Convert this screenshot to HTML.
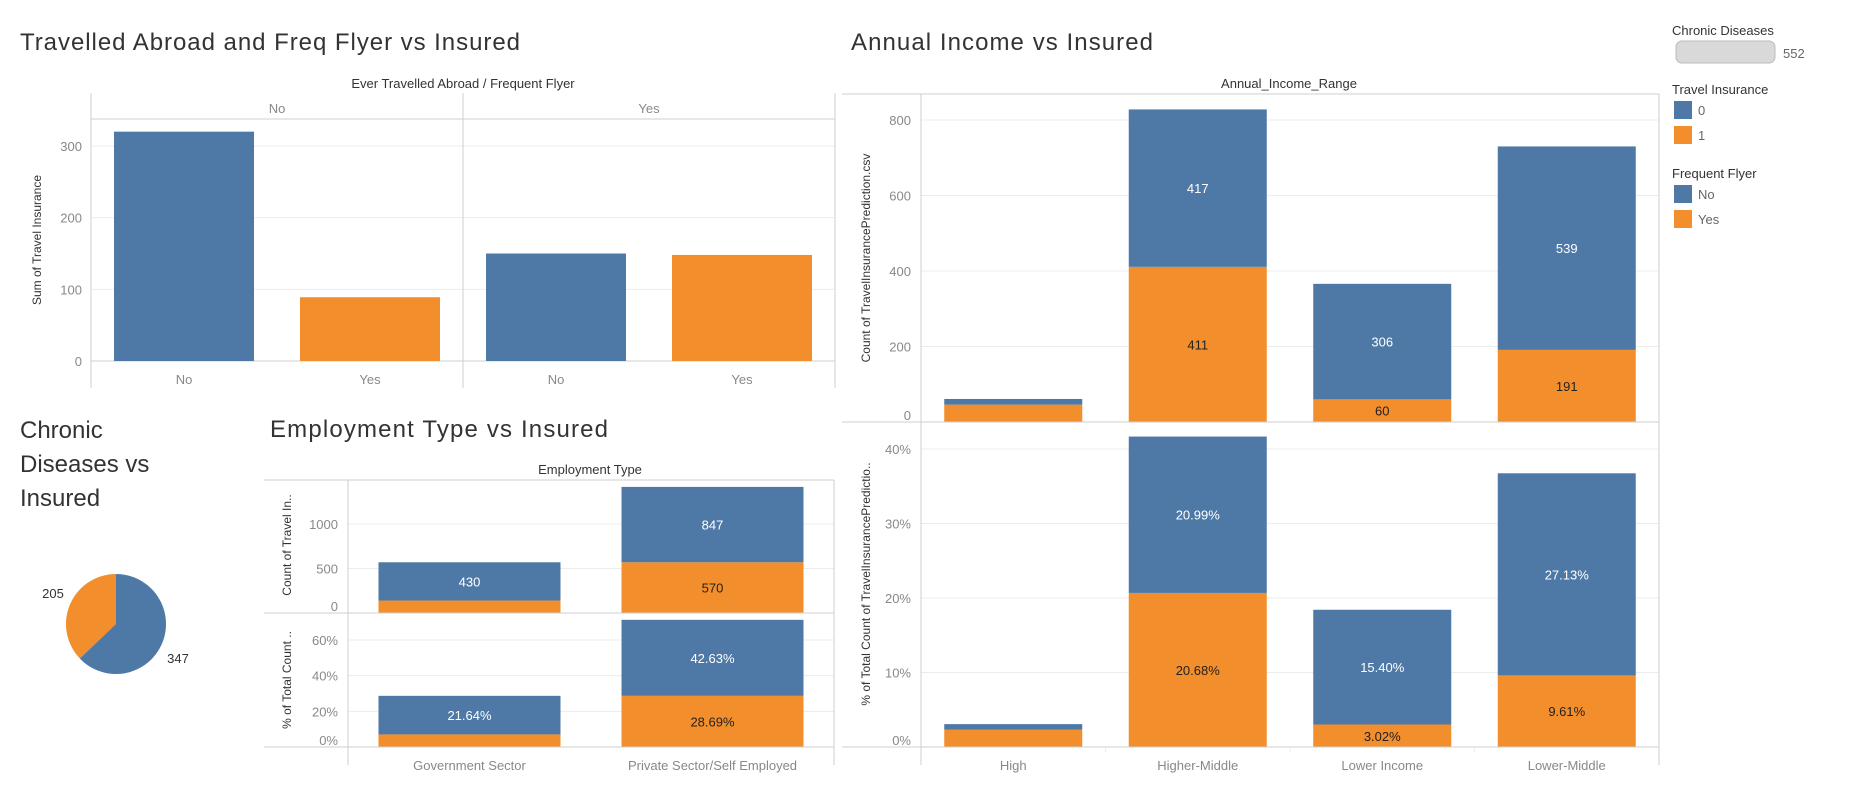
<!DOCTYPE html>
<html><head><meta charset="utf-8"><style>
body{margin:0;background:#fff;width:1870px;height:790px;overflow:hidden;font-family:"Liberation Sans",sans-serif}
svg text{font-family:"Liberation Sans",sans-serif}
</style></head><body>
<svg id="s" width="1870" height="790">
<g fill="#333" font-size="24">
<text x="20" y="50" textLength="500">Travelled Abroad and Freq Flyer vs Insured</text>
<text x="851" y="50" textLength="302">Annual Income vs Insured</text>
<text x="20" y="438">Chronic</text>
<text x="20" y="472">Diseases vs</text>
<text x="20" y="506">Insured</text>
<text x="270" y="437" textLength="338">Employment Type vs Insured</text>
</g>
<g font-size="13" fill="#333">
<text x="1672" y="35">Chronic Diseases</text>
<rect x="1676" y="41" width="99" height="22" rx="6" fill="#d9d9d9" stroke="#bbb"/>
<text x="1783" y="58" fill="#666">552</text>
<text x="1672" y="94">Travel Insurance</text>
<rect x="1674" y="101" width="18" height="18" fill="#4e79a7"/>
<text x="1698" y="115" fill="#666">0</text>
<rect x="1674" y="126" width="18" height="18" fill="#f28e2b"/>
<text x="1698" y="140" fill="#666">1</text>
<text x="1672" y="178">Frequent Flyer</text>
<rect x="1674" y="185" width="18" height="18" fill="#4e79a7"/>
<text x="1698" y="199" fill="#666">No</text>
<rect x="1674" y="210" width="18" height="18" fill="#f28e2b"/>
<text x="1698" y="224" fill="#666">Yes</text>
</g>
</svg>
<script>
// Chart 1: travelled abroad / frequent flyer
const travelGroups = ['No','Yes'];
const flyerCats = ['No','Yes'];
const travelValues = [[320, 89],[150, 148]];
const travelTicks = [0,100,200,300];
// Chart 2: income
const incomeCats = ['High','Higher-Middle','Lower Income','Lower-Middle'];
const incomeNo = [15, 417, 306, 539];
const incomeYes = [46, 411, 60, 191];
const incomePctNo = [0.75, 20.99, 15.40, 27.13];
const incomePctYes = [2.32, 20.68, 3.02, 9.61];
const incomeCountTicks = [0,200,400,600,800];
const incomePctTicks = [0,10,20,30,40];
// Chart 3: employment
const empCats = ['Government Sector','Private Sector/Self Employed'];
const empNo = [430, 847];
const empYes = [140, 570];
const empPctNo = [21.64, 42.63];
const empPctYes = [7.05, 28.69];
const empCountTicks = [0,500,1000];
const empPctTicks = [0,20,40,60];
// Chart 4: pie
const pieLabels = ['205','347'];
const pieValues = [205, 347];

const BLUE='#4e79a7', ORANGE='#f28e2b', GRID='#ececec', BORDER='#cfcfcf';
const svg=document.getElementById('s');
const NS='http://www.w3.org/2000/svg';
function mk(tag,attrs,parent){const e=document.createElementNS(NS,tag);for(const k in attrs)e.setAttribute(k,attrs[k]);(parent||svg).appendChild(e);return e;}
function txt(x,y,s,attrs,parent){const e=mk('text',Object.assign({x:x,y:y},attrs||{}),parent);e.textContent=s;return e;}
function line(x1,y1,x2,y2,c,parent){return mk('line',{x1,y1,x2,y2,stroke:c||BORDER,'stroke-width':1},parent);}

// ---------- Chart 1 ----------
{
const g=mk('g',{});


const L=91,R=835,T=93,H=119,B=361,mid=463;
const y=v=>B-v*(B-146)/300;
txt(463,88,'Ever Travelled Abroad  /  Frequent Flyer',{'text-anchor':'middle','font-size':13,fill:'#333'},g);
travelTicks.forEach(t=>{ if(t>0) line(L,y(t),R,y(t),GRID,g);
 const e=txt(82,y(t)+5,String(t),{'text-anchor':'end','font-size':13,fill:'#888'},g);
 
 });
line(L,T,L,388,BORDER,g);line(mid,T,mid,388,BORDER,g);line(R,T,R,388,BORDER,g);
line(L,H,R,H,BORDER,g);line(L,B,R,B,BORDER,g);
const t=txt(0,0,'Sum of Travel Insurance',{'font-size':12,fill:'#333','text-anchor':'middle',transform:'translate(41,240) rotate(-90)'},g);


const gw=(mid-L);
travelGroups.forEach((grp,gi)=>{
 const gx=L+gi*gw;
 const h=txt(gx+gw/2,113,grp,{'text-anchor':'middle','font-size':13,fill:'#888'},g);
 
 
 flyerCats.forEach((c,ci)=>{
  const cx=gx+gw*(ci+0.5)/2, w=140, v=travelValues[gi][ci];
  const r=mk('rect',{x:cx-w/2,y:y(v),width:w,height:B-y(v),fill:ci?ORANGE:BLUE},g);
  
  
  const l=txt(cx,384,c,{'text-anchor':'middle','font-size':13,fill:'#888'},g);
  
  
 });
});
}

// ---------- stacked helper ----------
function stacked(g,opt){
 const {L,R,top,bot,cats,no,yes,ticks,max,fmt,labelNo,labelYes,w,labelMin}=opt;
 const y=v=>bot-v*(bot-top)/max;
 ticks.forEach(t=>{ if(t>0) line(L,y(t),R,y(t),GRID,g);
  const e=txt(L-10,Math.min(y(t)+5,bot-2),fmt(t),{'text-anchor':'end','font-size':13,fill:'#888'},g);
  
  });
 const bw=(R-L)/cats.length;
 cats.forEach((c,i)=>{
  const cx=L+bw*(i+0.5);
  const ry=mk('rect',{x:cx-w/2,y:y(yes[i]),width:w,height:bot-y(yes[i]),fill:ORANGE},g);
  
  
  const rn=mk('rect',{x:cx-w/2,y:y(yes[i]+no[i]),width:w,height:y(yes[i])-y(yes[i]+no[i]),fill:BLUE},g);
  
  
  if(no[i]>=labelMin){const e=txt(cx,(y(yes[i])+y(yes[i]+no[i]))/2+5,labelNo[i],{'text-anchor':'middle','font-size':13,fill:'#fff'},g);
   
   }
  if(no[i]>=labelMin){const e=txt(cx,(bot+y(yes[i]))/2+5,labelYes[i],{'text-anchor':'middle','font-size':13,fill:'#222'},g);
   
   }
 });
}

// ---------- Chart 2 ----------
{
const g=mk('g',{});


const L=921,R=1659,T=94;
txt(1289,88,'Annual_Income_Range',{'text-anchor':'middle','font-size':13,fill:'#333'},g);
stacked(g,{L,R,top:120,bot:422,cats:incomeCats,no:incomeNo,yes:incomeYes,ticks:incomeCountTicks,max:800,fmt:t=>String(t),
 labelNo:incomeNo.map(String),labelYes:incomeYes.map(String),w:138,labelMin:100});
stacked(g,{L,R,top:449,bot:747,cats:incomeCats,no:incomePctNo,yes:incomePctYes,ticks:incomePctTicks,max:40,fmt:t=>t+'%',
 labelNo:incomePctNo.map(v=>v.toFixed(2)+'%'),labelYes:incomePctYes.map(v=>v.toFixed(2)+'%'),w:138,labelMin:5});
line(842,T,R,T,BORDER,g);line(L,T,L,765,BORDER,g);line(R,T,R,765,BORDER,g);
line(842,422,R,422,BORDER,g);line(842,747,R,747,BORDER,g);
const bw=(R-L)/incomeCats.length;
incomeCats.forEach((c,i)=>{const e=txt(L+bw*(i+0.5),770,c,{'text-anchor':'middle','font-size':13,fill:'#888'},g);
 
 
 if(i>0) line(L+bw*i,747,L+bw*i,752,GRID,g);});
let e=txt(0,0,'Count of TravelInsurancePrediction.csv',{'font-size':12,fill:'#333','text-anchor':'middle',transform:'translate(870,258) rotate(-90)'},g);


e=txt(0,0,'% of Total Count of TravelInsurancePredictio..',{'font-size':12,fill:'#333','text-anchor':'middle',transform:'translate(870,584) rotate(-90)'},g);


}

// ---------- Chart 3 ----------
{
const g=mk('g',{});


const L=348,R=834,T=480;
txt(590,474,'Employment Type',{'text-anchor':'middle','font-size':13,fill:'#333'},g);
stacked(g,{L,R,top:524,bot:613,cats:empCats,no:empNo,yes:empYes,ticks:empCountTicks,max:1000,fmt:t=>String(t),
 labelNo:empNo.map(String),labelYes:['',String(empYes[1])],w:182,labelMin:100});
stacked(g,{L,R,top:640,bot:747,cats:empCats,no:empPctNo,yes:empPctYes,ticks:empPctTicks,max:60,fmt:t=>t+'%',
 labelNo:empPctNo.map(v=>v.toFixed(2)+'%'),labelYes:['',empPctYes[1].toFixed(2)+'%'],w:182,labelMin:5});
line(264,T,R,T,BORDER,g);line(L,T,L,765,BORDER,g);line(R,T,R,765,BORDER,g);
line(264,613,R,613,BORDER,g);line(264,747,R,747,BORDER,g);
const bw=(R-L)/empCats.length;
empCats.forEach((c,i)=>{const e=txt(L+bw*(i+0.5),770,c,{'text-anchor':'middle','font-size':13,fill:'#888'},g);
 
 });
let e=txt(0,0,'Count of Travel In..',{'font-size':12,fill:'#333','text-anchor':'middle',transform:'translate(291,545) rotate(-90)'},g);


e=txt(0,0,'% of Total Count ..',{'font-size':12,fill:'#333','text-anchor':'middle',transform:'translate(291,680) rotate(-90)'},g);


}

// ---------- Chart 4: pie ----------
{
const g=mk('g',{});


const cx=116,cy=624,r=50,total=pieValues.reduce((a,b)=>a+b,0);
// orange counter-clockwise from top, blue clockwise from top
let a0=-Math.PI/2-2*Math.PI*pieValues[0]/total;
const colors=[ORANGE,BLUE];
pieValues.forEach((v,i)=>{
 const a1=a0+2*Math.PI*v/total;
 const large=(a1-a0)>Math.PI?1:0;
 const p=mk('path',{d:`M${cx},${cy} L${cx+r*Math.cos(a0)},${cy+r*Math.sin(a0)} A${r},${r} 0 ${large} 1 ${cx+r*Math.cos(a1)},${cy+r*Math.sin(a1)} Z`,fill:colors[i]},g);
 
 
 a0=a1;
});
let e=txt(53,598,pieLabels[0],{'text-anchor':'middle','font-size':13,fill:'#333'},g);


e=txt(178,663,pieLabels[1],{'text-anchor':'middle','font-size':13,fill:'#333'},g);


}
</script>
</body></html>
